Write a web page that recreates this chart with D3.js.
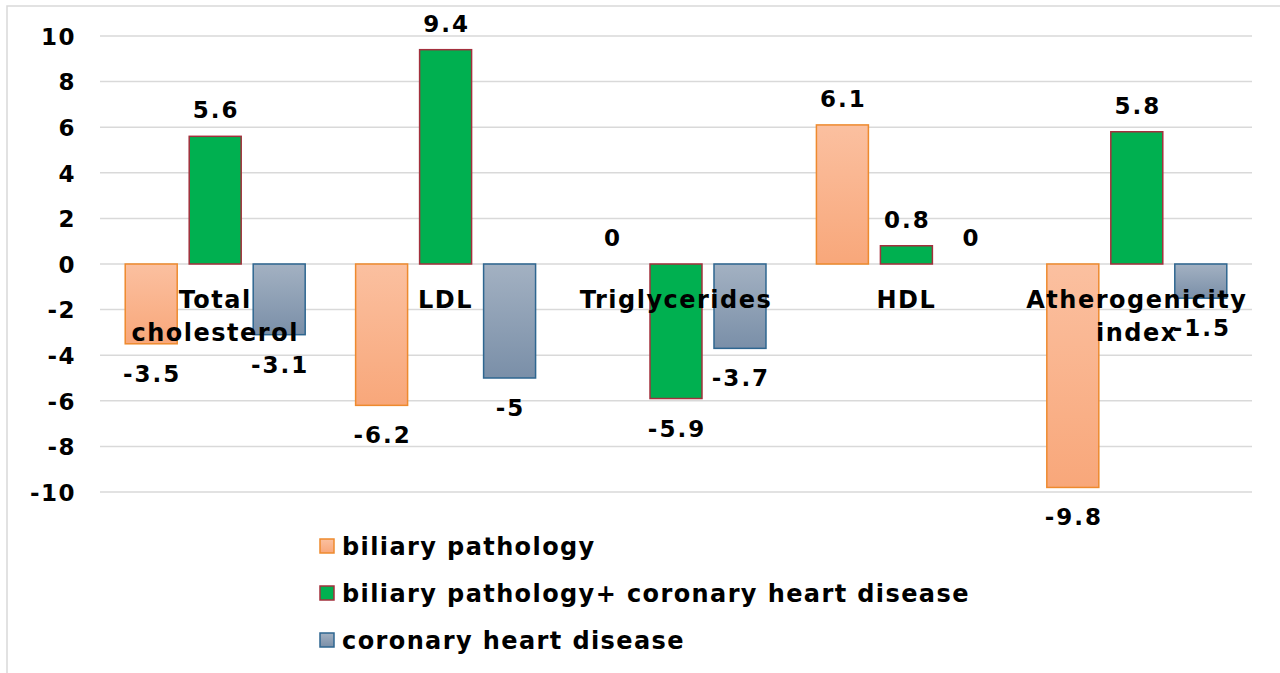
<!DOCTYPE html>
<html>
<head>
<meta charset="utf-8">
<script src="https://cdn.jsdelivr.net/npm/d3@7"></script>
<style>
  body { margin: 0; background: #fff; }
  svg text { font-family: "DejaVu Sans", Verdana, sans-serif; font-weight: bold; fill: #000; }
</style>
</head>
<body>
<div id="chart"></div>
<script>
// Daten
var categories = ["Total cholesterol", "LDL", "Triglycerides", "HDL", "Atherogenicity index"];
var categoryLines = [["Total", "cholesterol"], ["LDL"], ["Triglycerides"], ["HDL"], ["Atherogenicity", "index"]];
var seriesNames = ["biliary pathology", "biliary pathology+ coronary heart disease", "coronary heart disease"];
var biliary = [-3.5, -6.2, 0, 6.1, -9.8];
var biliaryChd = [5.6, 9.4, -5.9, 0.8, 5.8];
var chd = [-3.1, -5, -3.7, 0, -1.5];
var yTicks = [-10, -8, -6, -4, -2, 0, 2, 4, 6, 8, 10];

var seriesValues = [biliary, biliaryChd, chd];
var fills = ["url(#gOrange)", "#00B050", "url(#gBlue)"];
var strokes = ["#EE8A2E", "#A3303D", "#2E6690"];

var width = 1280, height = 673;
var svg = d3.select("#chart").append("svg")
  .attr("width", width)
  .attr("height", height);

// Verläufe
var defs = svg.append("defs");
function grad(id, c1, c2) {
  var g = defs.append("linearGradient").attr("id", id)
    .attr("x1", 0).attr("y1", 0).attr("x2", 0).attr("y2", 1);
  g.append("stop").attr("offset", "0%").attr("stop-color", c1);
  g.append("stop").attr("offset", "100%").attr("stop-color", c2);
}
grad("gOrange", "#FBC0A0", "#F8A77A");
grad("gBlue", "#A3B1C2", "#7A8FA8");

// Rahmen
svg.append("rect")
  .attr("x", 7).attr("y", 6)
  .attr("width", 1300).attr("height", 700)
  .attr("fill", "none")
  .attr("stroke", "#d9d9d9")
  .attr("stroke-width", 1.5);

var x = d3.scaleBand()
  .domain(categories)
  .range([100, 1252]);

var x1 = d3.scaleBand()
  .domain(d3.range(3))
  .range([0, x.bandwidth()])
  .paddingInner(0.1875)
  .paddingOuter(0.394);

var y = d3.scaleLinear()
  .domain([-10, 10])
  .range([492, 36]);

// Gitterlinien
svg.append("g").selectAll("line")
  .data(yTicks)
  .enter().append("line")
  .attr("x1", 100).attr("x2", 1252)
  .attr("y1", function (d) { return y(d); })
  .attr("y2", function (d) { return y(d); })
  .attr("stroke", "#d9d9d9")
  .attr("stroke-width", 1.5);

// y-Achse
var yAxis = d3.axisLeft(y).tickValues(yTicks).tickSize(0).tickPadding(0)
  .tickFormat(function (d) { return String(d); });
var yg = svg.append("g")
  .attr("transform", "translate(76,0)")
  .call(yAxis);
yg.select(".domain").remove();
yg.selectAll("text")
  .attr("font-size", 23)
  .style("font-family", "'DejaVu Sans', Verdana, sans-serif")
  .style("font-weight", "bold")
  .style("letter-spacing", "1.5px")
  .attr("dy", "0.36em");

// Balken
var rows = [];
categories.forEach(function (c, i) {
  seriesValues.forEach(function (vals, s) {
    rows.push({ cat: c, s: s, v: vals[i] });
  });
});

svg.append("g").selectAll("rect")
  .data(rows)
  .enter().append("rect")
  .attr("x", function (d) { return x(d.cat) + x1(d.s); })
  .attr("width", x1.bandwidth())
  .attr("y", function (d) { return y(Math.max(0, d.v)); })
  .attr("height", function (d) { return Math.abs(y(d.v) - y(0)); })
  .attr("fill", function (d) { return fills[d.s]; })
  .attr("stroke", function (d) { return d.v === 0 ? "none" : strokes[d.s]; })
  .attr("stroke-width", 1.5);

// Kategorienamen
var catG = svg.append("g").selectAll("text")
  .data(categories)
  .enter().append("text")
  .attr("text-anchor", "middle")
  .attr("font-size", 24)
  .style("letter-spacing", "1.5px")
  .attr("x", function (d) { return x(d) + x.bandwidth() / 2; })
  .attr("y", 308);
catG.selectAll("tspan")
  .data(function (d, i) { return categoryLines[i]; })
  .enter().append("tspan")
  .attr("x", function () { return d3.select(this.parentNode).attr("x"); })
  .attr("dy", function (d, i) { return i === 0 ? 0 : 33; })
  .text(function (d) { return d; });

// Werte
svg.append("g").selectAll("text")
  .data(rows)
  .enter().append("text")
  .attr("text-anchor", "middle")
  .attr("font-size", 23)
  .style("letter-spacing", "2px")
  .attr("x", function (d) { return x(d.cat) + x1(d.s) + x1.bandwidth() / 2 + 1; })
  .attr("y", function (d) { return d.v >= 0 ? y(d.v) - 18 : y(d.v) + 38; })
  .text(function (d) { return d.v; });

// Legende
var leg = svg.append("g").selectAll("g")
  .data(seriesNames)
  .enter().append("g")
  .attr("transform", function (d, i) { return "translate(320," + (546 + i * 47) + ")"; });
leg.append("rect")
  .attr("x", 0).attr("y", -7)
  .attr("width", 14).attr("height", 14)
  .attr("fill", function (d, i) { return fills[i]; })
  .attr("stroke", function (d, i) { return strokes[i]; })
  .attr("stroke-width", 1.5);
leg.append("text")
  .attr("x", 22).attr("y", 9)
  .attr("font-size", 24)
  .style("letter-spacing", "1.4px")
  .text(function (d) { return d; });
</script>
</body>
</html>
